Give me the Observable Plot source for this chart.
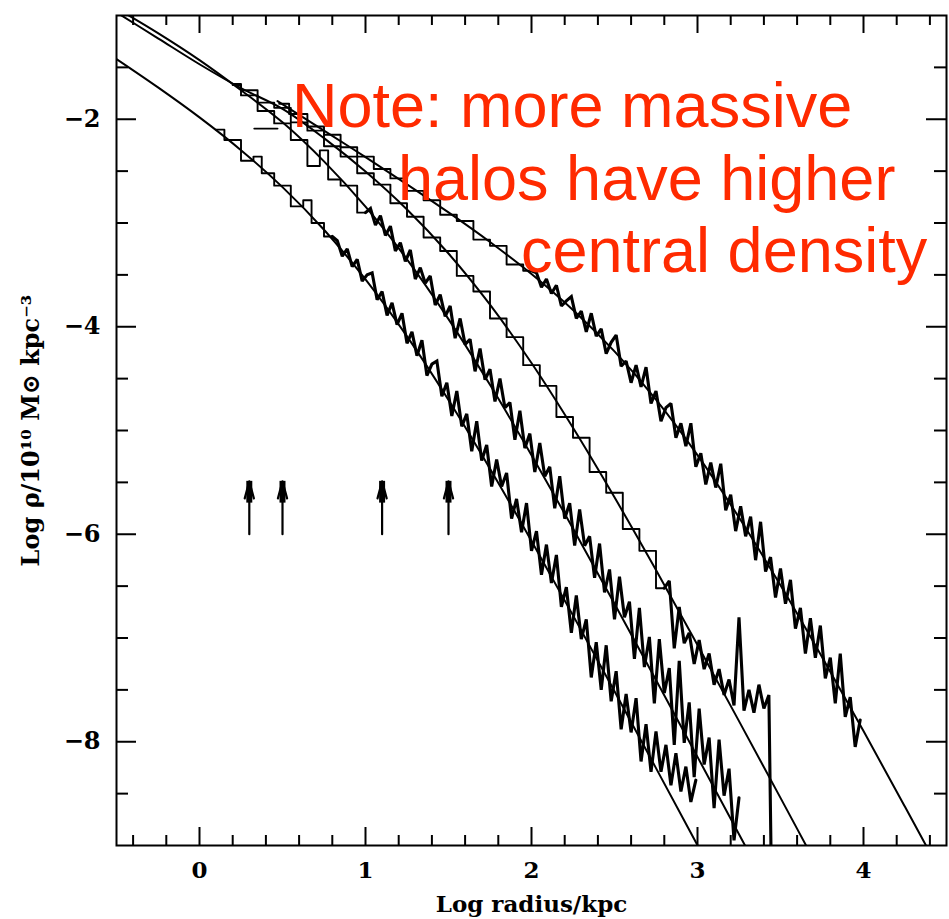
<!DOCTYPE html>
<html><head><meta charset="utf-8">
<script src="https://cdn.jsdelivr.net/npm/d3@7"></script>
<script src="https://cdn.jsdelivr.net/npm/@observablehq/plot@0.6"></script>
<style>
body{margin:0;background:#fff;}
#wrap{position:relative;width:949px;height:919px;overflow:hidden;}
.note{position:absolute;font-family:"Liberation Sans",Arial,sans-serif;font-size:63px;line-height:63px;color:#ff2a00;white-space:nowrap;}
</style></head><body><div id="wrap"></div>
<script>
// ---------- data (log r [kpc], log rho) ----------
const xTicks = [0, 1, 2, 3, 4];
const yTicks = [-2, -4, -6, -8];

// NFW fit curves, four halos (A = most massive ... D = least massive)
const fitA_r   = [0.47, 0.75, 1.0, 1.25, 1.5, 1.75, 2.0, 2.25, 2.5, 2.75, 3.0, 3.25, 3.5, 3.75, 4.0, 4.25, 4.5];
const fitA_rho = [-1.825, -2.109, -2.365, -2.627, -2.898, -3.183, -3.492, -3.839, -4.238, -4.702, -5.237, -5.839, -6.492, -7.183, -7.897, -8.627, -9.365];
const fitB_r   = [-0.5, -0.25, 0, 0.25, 0.5, 0.75, 1.0, 1.25, 1.5, 1.75, 2.0, 2.25, 2.5, 2.75, 3.0, 3.25, 3.5, 3.75];
const fitB_rho = [-0.97, -1.22, -1.47, -1.70, -1.90, -2.182, -2.504, -2.870, -3.294, -3.787, -4.350, -4.974, -5.644, -6.345, -7.067, -7.801, -8.541, -9.286];
const fitC_r   = [-0.5, -0.25, 0, 0.25, 0.5, 0.75, 1.0, 1.25, 1.5, 1.75, 2.0, 2.25, 2.5, 2.75, 3.0, 3.25, 3.5];
const fitC_rho = [-0.93, -1.17, -1.43, -1.72, -2.03, -2.406, -2.843, -3.350, -3.926, -4.560, -5.238, -5.945, -6.669, -7.404, -8.146, -8.891, -9.64];
const fitD_r   = [-0.5, -0.25, 0, 0.25, 0.5, 0.75, 1.0, 1.25, 1.5, 1.75, 2.0, 2.25, 2.5, 2.75, 3.0, 3.25];
const fitD_rho = [-1.420, -1.693, -1.982, -2.298, -2.654, -3.065, -3.544, -4.093, -4.706, -5.368, -6.064, -6.782, -7.514, -8.254, -8.998, -9.745];

// simulated (binned) density profiles
const simA_r = [0.48,0.6,0.7,0.8,0.9,1.0,1.1,1.2,1.3,1.4,1.5,1.6,1.7,1.8,1.9,2.0,
  2.03,2.06,2.09,2.12,2.15,2.18,2.21,2.24,2.27,2.30,2.33,2.36,2.39,2.42,2.45,2.48,2.51,2.54,2.57,2.60,2.63,2.66,2.69,2.72,2.75,2.78,2.81,2.84,2.87,2.90,2.93,2.96,2.99,
  3.02,3.05,3.08,3.11,3.14,3.17,3.20,3.23,3.26,3.29,3.32,3.35,3.38,3.41,3.44,3.47,3.50,3.53,3.56,3.59,3.62,3.65,3.68,3.71,3.74,3.77,3.80,3.83,3.86,3.89,3.92,3.95,3.98];
const simA_rho = [-1.85,-1.95,-2.07,-2.15,-2.27,-2.36,-2.48,-2.57,-2.69,-2.78,-2.92,-2.98,-3.16,-3.22,-3.40,-3.46,
  -3.48,-3.62,-3.54,-3.68,-3.60,-3.80,-3.75,-3.71,-3.92,-3.85,
  -4.05,-3.87,-4.09,-4.02,-4.26,-4.15,-4.08,-4.38,-4.33,-4.54,
  -4.37,-4.58,-4.39,-4.74,-4.62,-4.91,-4.78,-4.74,-5.07,-4.93,
  -5.15,-4.93,-5.35,-5.22,-5.52,-5.31,-5.55,-5.32,-5.77,-5.62,
  -5.97,-5.73,-6.02,-5.83,-6.25,-5.88,-6.36,-6.22,-6.61,-6.33,
  -6.67,-6.44,-6.91,-6.71,-7.15,-6.81,-7.19,-6.88,-7.39,-7.19,
  -7.63,-7.15,-7.76,-7.57,-8.05,-7.79];

const simB_r = [0.2,0.3,0.4,0.5,0.6,0.7,0.8,0.9,1.0,1.1,1.2,1.3,1.4,1.5,1.6,1.7,1.8,1.9,2.0,2.1,2.2,2.3,2.4,2.5,2.6,2.7,2.8,
  2.83,2.86,2.89,2.92,2.95,2.98,3.01,3.04,3.07,3.10,3.13,3.16,3.19,3.22,3.25,3.28,3.31,3.34,3.37,3.40,3.43,3.445];
const simB_rho = [-1.66,-1.72,-1.84,-1.89,-2.03,-2.11,-2.26,-2.36,-2.52,-2.63,-2.81,-2.94,-3.14,-3.27,-3.51,-3.66,-3.92,-4.10,-4.37,-4.57,-4.87,-5.07,-5.40,-5.60,-5.95,-6.16,-6.52,
  -6.45,-7.10,-6.70,-7.05,-6.95,-7.25,-7.02,-7.30,-7.15,-7.45,-7.30,-7.55,-7.40,-7.65,-6.80,-7.70,-7.50,-7.72,-7.45,-7.68,-7.55,-9.3];

const simC_r = [0.2,0.3,0.4,0.5,0.6,0.7,0.75,0.8,0.9,1.0,
  1.03,1.06,1.09,1.12,1.15,1.18,1.21,1.24,1.27,1.30,1.33,1.36,1.39,1.42,1.45,1.48,1.51,1.54,1.57,1.60,1.63,1.66,1.69,1.72,1.75,1.78,1.81,1.84,1.87,1.90,1.93,1.96,1.99,
  2.02,2.05,2.08,2.11,2.14,2.17,2.20,2.23,2.26,2.29,2.32,2.35,2.38,2.41,2.44,2.47,2.50,2.53,2.56,2.59,2.62,2.65,2.68,2.71,2.74,2.77,2.80,2.83,2.86,2.89,2.92,2.95,2.98,
  3.01,3.04,3.07,3.10,3.13,3.16,3.19,3.22,3.25];
const simC_rho = [-1.67,-1.77,-1.92,-2.04,-2.20,-2.45,-2.30,-2.58,-2.64,-2.90,
  -2.86,-3.02,-2.93,-3.12,-3.03,-3.27,-3.19,-3.37,-3.26,-3.54,
  -3.43,-3.58,-3.51,-3.79,-3.69,-3.90,-3.80,-4.11,-3.92,-4.17,
  -4.12,-4.43,-4.21,-4.51,-4.41,-4.72,-4.50,-4.78,-4.73,-5.09,
  -4.81,-5.17,-5.03,-5.40,-5.12,-5.44,-5.35,-5.75,-5.44,-5.85,
  -5.70,-6.11,-5.76,-6.11,-6.02,-6.42,-6.09,-6.56,-6.34,-6.82,
  -6.41,-6.80,-6.65,-7.20,-6.71,-7.28,-6.99,-7.63,-7.01,-7.53,
  -7.29,-8.03,-7.22,-8.01,-7.62,-8.34,-7.68,-8.22,-7.96,-8.64,
  -7.98,-8.52,-8.26,-8.95,-8.54];

const simD_r = [0.1,0.2,0.3,0.35,0.4,0.5,0.6,0.65,0.7,0.8,
  0.83,0.86,0.89,0.92,0.95,0.98,1.01,1.04,1.07,1.10,1.13,1.16,1.19,1.22,1.25,1.28,1.31,1.34,1.37,1.40,1.43,1.46,1.49,
  1.52,1.55,1.58,1.61,1.64,1.67,1.70,1.73,1.76,1.79,1.82,1.85,1.88,1.91,1.94,1.97,2.00,
  2.03,2.06,2.09,2.12,2.15,2.18,2.21,2.24,2.27,2.30,2.33,2.36,2.39,2.42,2.45,2.48,2.51,2.54,2.57,2.60,2.63,2.66,2.69,2.72,2.75,2.78,2.81,2.84,2.87,2.90,2.93,2.96,2.99];
const simD_rho = [-2.10,-2.20,-2.40,-2.36,-2.52,-2.64,-2.84,-2.78,-3.00,-3.13,
  -3.17,-3.32,-3.25,-3.42,-3.35,-3.56,-3.50,-3.48,-3.74,-3.66,
  -3.89,-3.77,-3.98,-3.87,-4.16,-4.05,-4.28,-4.13,-4.47,-4.36,
  -4.33,-4.67,-4.54,-4.86,-4.62,-4.96,-4.84,-5.20,-4.91,-5.29,
  -5.14,-5.54,-5.28,-5.54,-5.41,-5.85,-5.66,-5.98,-5.70,-6.16,
  -5.97,-6.39,-6.10,-6.47,-6.20,-6.70,-6.51,-6.95,-6.59,-7.01,
  -6.82,-7.38,-7.04,-7.50,-7.07,-7.61,-7.32,-7.88,-7.54,-7.91,
  -7.58,-8.19,-7.83,-8.29,-7.90,-8.29,-8.03,-8.42,-8.11,-8.48,
  -8.24,-8.58,-8.37];

// log r where each profile becomes noisy (drawn as a dense zig-zag beyond it)
const noisyFrom_halo = ["A", "B", "C", "D"];
const noisyFrom_r    = [2.0, 2.8, 1.0, 0.8];

// short first-bin segment near log r ~ 0.33-0.47
const firstBin_r   = [0.33, 0.47];
const firstBin_rho = [-2.09, -2.09];

// gravitational softening arrows
const soft_r    = [0.3, 0.5, 1.1, 1.5];
const soft_base = [-6.0, -6.0, -6.0, -6.0];
const soft_tip  = [-5.49, -5.49, -5.49, -5.49];
const soft_head = [-5.70, -5.70, -5.70, -5.70];

const noteLines = ["Note: more massive", "halos have higher", "central density"];

// ---------- build tables ----------
function rows(halo, rs, ys) {
  const n = Math.min(rs.length, ys.length);
  const out = [];
  for (let i = 0; i < n; i++) out.push({halo, r: rs[i], rho: ys[i]});
  return out;
}
const fits = [].concat(rows("A", fitA_r, fitA_rho), rows("B", fitB_r, fitB_rho), rows("C", fitC_r, fitC_rho), rows("D", fitD_r, fitD_rho));
const sims = [].concat(rows("A", simA_r, simA_rho), rows("B", simB_r, simB_rho), rows("C", simC_r, simC_rho), rows("D", simD_r, simD_rho));
const noisyFrom = Object.fromEntries(noisyFrom_halo.map((h, i) => [h, noisyFrom_r[i]]));
const simsInner = sims.filter(d => d.r <= noisyFrom[d.halo] + 1e-9);
const simsOuter = sims.filter(d => d.r >= noisyFrom[d.halo] - 1e-9);
const firstBin = rows("X", firstBin_r, firstBin_rho);
const soft = soft_r.map((r, i) => ({r, base: soft_base[i], tip: soft_tip[i], head: soft_head[i]}));

const xMinor = d3.range(-4, 45, 2).map(v => v / 10).filter(v => !xTicks.includes(v));
const yMinor = d3.range(-17, -2).map(v => v / 2).filter(v => !yTicks.includes(v));

// ---------- layout ----------
const W = 949, H = 919;
const mT = 15, mB = 74, mL = 116, mR = 3;
const innerH = H - mT - mB, innerW = W - mL - mR;
const xMajLen = 18, xMinLen = 10, yMajLen = 20, yMinLen = 12;

const chart = Plot.plot({
  width: W, height: H,
  marginTop: mT, marginBottom: mB, marginLeft: mL, marginRight: mR,
  x: {domain: [-0.5, 4.5]},
  y: {domain: [-9, -1]},
  style: {fontFamily: "'DejaVu Serif', serif", fontWeight: "bold", fontSize: "23px", background: "white", color: "black"},
  marks: [
    Plot.line(fits, {x: "r", y: "rho", z: "halo", curve: "catmull-rom", stroke: "black", strokeWidth: 2, clip: true}),
    Plot.line(simsInner, {x: "r", y: "rho", z: "halo", curve: "step", stroke: "black", strokeWidth: 1.9, clip: true}),
    Plot.line(simsOuter, {x: "r", y: "rho", z: "halo", curve: "linear", stroke: "black", strokeWidth: 3.1, strokeLinejoin: "miter", strokeMiterlimit: 2, clip: true}),
    Plot.line(firstBin, {x: "r", y: "rho", stroke: "black", strokeWidth: 1.9}),
    Plot.arrow(soft, {x: "r", y1: "base", y2: "tip", stroke: "black", strokeWidth: 2.2, headLength: 38, headAngle: 30}),
    Plot.ruleX(soft, {x: "r", y1: "tip", y2: "head", stroke: "black", strokeWidth: 6}),
    // ticks on all four sides, pointing inward
    Plot.ruleX(xTicks, {x: d => d, insetTop: innerH - xMajLen, stroke: "black", strokeWidth: 2}),
    Plot.ruleX(xTicks, {x: d => d, insetBottom: innerH - xMajLen, stroke: "black", strokeWidth: 2}),
    Plot.ruleX(xMinor, {x: d => d, insetTop: innerH - xMinLen, stroke: "black", strokeWidth: 2}),
    Plot.ruleX(xMinor, {x: d => d, insetBottom: innerH - xMinLen, stroke: "black", strokeWidth: 2}),
    Plot.ruleY(yTicks, {y: d => d, insetRight: innerW - yMajLen, stroke: "black", strokeWidth: 2}),
    Plot.ruleY(yTicks, {y: d => d, insetLeft: innerW - yMajLen, stroke: "black", strokeWidth: 2}),
    Plot.ruleY(yMinor, {y: d => d, insetRight: innerW - yMinLen, stroke: "black", strokeWidth: 2}),
    Plot.ruleY(yMinor, {y: d => d, insetLeft: innerW - yMinLen, stroke: "black", strokeWidth: 2}),
    Plot.frame({stroke: "black", strokeWidth: 2}),
    Plot.axisX({ticks: xTicks, tickFormat: d => String(d), tickSize: 0, tickPadding: 16, label: "Log radius/kpc", labelAnchor: "center", labelArrow: "none", labelOffset: 66}),
    Plot.axisY({ticks: yTicks, tickFormat: d => "−" + Math.abs(d), tickSize: 0, tickPadding: 16, label: "Log ρ/10¹⁰ M⊙ kpc⁻³", labelAnchor: "center", labelArrow: "none", labelOffset: 95, fontSize: 24})
  ]
});
const wrap = document.getElementById("wrap");
wrap.appendChild(chart);

// red annotation overlay
const notePos = [[292, 74], [398, 147], [521, 219]];
noteLines.forEach((t, i) => {
  const s = document.createElement("div");
  s.className = "note";
  s.textContent = t;
  s.style.left = notePos[i][0] + "px";
  s.style.top = notePos[i][1] + "px";
  wrap.appendChild(s);
});
</script>
</body></html>
